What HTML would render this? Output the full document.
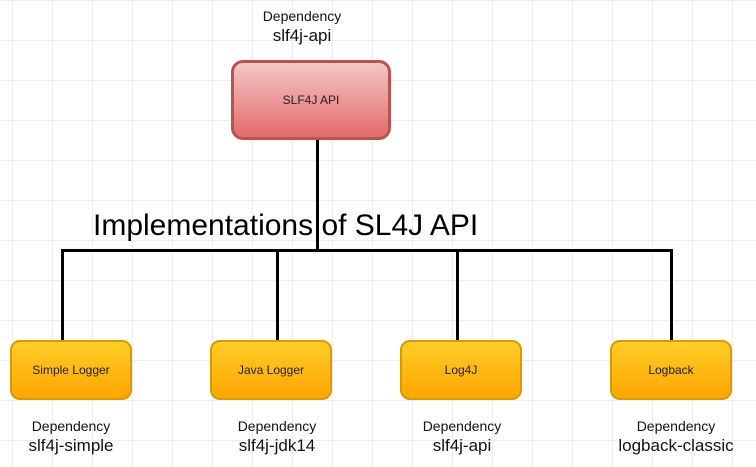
<!DOCTYPE html>
<html><head><style>
body{margin:0;width:756px;height:467px;overflow:hidden;background:#fff;
background-image:linear-gradient(#ececec 1px,transparent 1px),linear-gradient(90deg,#ececec 1px,transparent 1px);
background-size:40px 40px;background-position:12px 0;font-family:"Liberation Sans",sans-serif;position:relative}
.b{position:absolute;box-sizing:border-box;display:flex;align-items:center;justify-content:center;font-size:12px;color:#222}
.r{left:231px;top:60px;width:160px;height:80px;border:3px solid #b85450;border-radius:12px;background:linear-gradient(#f5c6c6,#e36b6b)}
.o{top:340px;width:122px;height:60px;border:2px solid #d79b00;border-radius:10px;background:linear-gradient(#ffcd28,#ffa500)}
.l{position:absolute;background:#000}
.t{position:absolute;text-align:center;width:160px;color:#111}
.t .a{font-size:14px}.t .n{font-size:17px;margin-top:2px}
</style></head><body>
<div class="l" style="left:316px;top:140px;width:3px;height:111px"></div>
<div class="l" style="left:61px;top:249px;width:612px;height:3px"></div>
<div class="l" style="left:61px;top:250px;width:3px;height:91px"></div>
<div class="l" style="left:276px;top:250px;width:3px;height:91px"></div>
<div class="l" style="left:456px;top:250px;width:3px;height:91px"></div>
<div class="l" style="left:670px;top:250px;width:3px;height:91px"></div>
<div class="b r">SLF4J API</div>
<div class="b o" style="left:10px">Simple Logger</div>
<div class="b o" style="left:210px">Java Logger</div>
<div class="b o" style="left:400px">Log4J</div>
<div class="b o" style="left:610px">Logback</div>
<div style="position:absolute;left:93px;top:209px;font-size:30px;color:#000">Implementations of SL4J API</div>
<div class="t" style="left:222px;top:8px"><div class="a">Dependency</div><div class="n">slf4j-api</div></div>
<div class="t" style="left:-9px;top:418px"><div class="a">Dependency</div><div class="n">slf4j-simple</div></div>
<div class="t" style="left:197px;top:418px"><div class="a">Dependency</div><div class="n">slf4j-jdk14</div></div>
<div class="t" style="left:382px;top:418px"><div class="a">Dependency</div><div class="n">slf4j-api</div></div>
<div class="t" style="left:596px;top:418px"><div class="a">Dependency</div><div class="n">logback-classic</div></div>
</body></html>
